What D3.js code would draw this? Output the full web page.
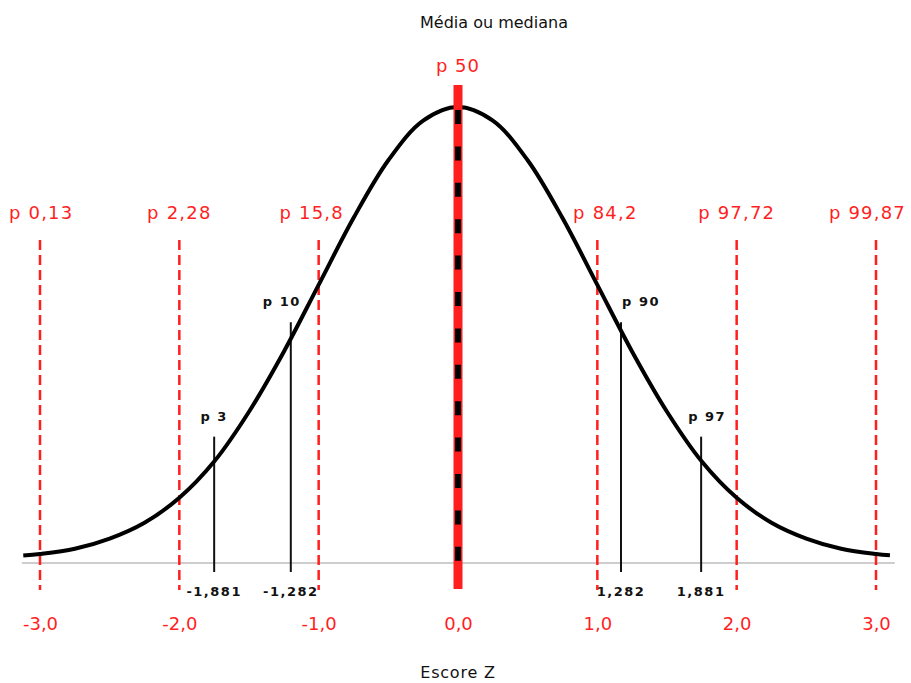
<!DOCTYPE html>
<html>
<head>
<meta charset="utf-8">
<script src="https://cdn.jsdelivr.net/npm/d3@7"></script>
<style>
  html, body { margin: 0; padding: 0; background: #fff; }
  svg { display: block; }
</style>
</head>
<body>
<svg id="chart" width="911" height="683"></svg>
<script>
// ---- data ----
const curveZ       = [-3.12, -3.0, -2.75, -2.5, -2.25, -2.0, -1.75, -1.5, -1.25, -1.0, -0.75, -0.5, -0.25, 0, 0.25, 0.5, 0.75, 1.0, 1.25, 1.5, 1.75, 2.0, 2.25, 2.5, 2.75, 3.0, 3.1];
const curveDensity = [0.0031, 0.0044, 0.009, 0.018, 0.032, 0.054, 0.086, 0.130, 0.183, 0.242, 0.301, 0.352, 0.387, 0.399, 0.387, 0.352, 0.301, 0.242, 0.183, 0.130, 0.086, 0.054, 0.032, 0.018, 0.009, 0.0044, 0.0033];

const tickValues = [-3, -2, -1, 0, 1, 2, 3];
const tickLabels = ["-3,0", "-2,0", "-1,0", "0,0", "1,0", "2,0", "3,0"];

const refZ      = [-3, -2, -1, 1, 2, 3];
const refLabels = ["p 0,13", "p 2,28", "p 15,8", "p 84,2", "p 97,72", "p 99,87"];

const markerZ       = [-1.75, -1.2, 1.17, 1.745];
const markerHeights = [0.108, 0.209, 0.209, 0.108];
const markerLabels  = ["p 3", "p 10", "p 90", "p 97"];
const markerValues  = ["-1,881", "-1,282", "1,282", "1,881"];

const medianZ = 0;
const medianLabel = "p 50";
const titleText = "Média ou mediana";
const axisTitle = "Escore Z";

// ---- layout (pixel nudges, not data) ----
const refNudge    = [0, 0, -7, 8, 0, 0];
const markerNudge = [0, -9, 20, 6];

// ---- drawing ----
const RED = "#ff1f1f";
const svg = d3.select("#chart");
const x = d3.scaleLinear().domain([-3, 3]).range([40, 876]);
const y = d3.scaleLinear().domain([0, 0.399]).range([559, 107]);

const fontMain = "'DejaVu Sans', Verdana, sans-serif";

// title
svg.append("text")
  .attr("x", 494).attr("y", 28)
  .attr("text-anchor", "middle")
  .attr("font-family", fontMain).attr("font-size", 16)
  .attr("fill", "#111")
  .text(titleText);

// baseline
svg.append("line")
  .attr("x1", x(-3.13)).attr("x2", x(3.12) + 2)
  .attr("y1", 563).attr("y2", 563)
  .attr("stroke", "#bdbdbd").attr("stroke-width", 1.5);

// red dashed reference lines
svg.append("g").selectAll("line").data(refZ).join("line")
  .attr("x1", d => x(d)).attr("x2", d => x(d))
  .attr("y1", 240).attr("y2", 590)
  .attr("stroke", RED).attr("stroke-width", 2.5)
  .attr("stroke-dasharray", "10,5");

const refText = svg.append("g").selectAll("text").data(refZ).join("text")
  .attr("x", (d, i) => x(d) + refNudge[i]).attr("y", 219)
  .attr("text-anchor", "middle")
  .attr("font-family", fontMain).attr("font-size", 18)
  .attr("letter-spacing", 1.2)
  .attr("fill", RED)
  .text((d, i) => refLabels[i]);
// keep labels inside the canvas
refText.each(function () {
  const b = this.getBBox();
  const cx = +this.getAttribute("x");
  if (b.x < 9) this.setAttribute("x", cx + (9 - b.x));
  else if (b.x + b.width > 906) this.setAttribute("x", cx - (b.x + b.width - 906));
});

// black marker lines
svg.append("g").selectAll("line").data(markerZ).join("line")
  .attr("x1", d => x(d)).attr("x2", d => x(d))
  .attr("y1", (d, i) => y(markerHeights[i])).attr("y2", 572)
  .attr("stroke", "#111").attr("stroke-width", 2);

svg.append("g").selectAll("text").data(markerZ).join("text")
  .attr("x", (d, i) => x(d) + markerNudge[i]).attr("y", (d, i) => y(markerHeights[i]) - 16)
  .attr("text-anchor", "middle")
  .attr("font-family", fontMain).attr("font-size", 13).attr("font-weight", "bold")
  .attr("letter-spacing", 1.5)
  .attr("fill", "#111")
  .text((d, i) => markerLabels[i]);

svg.append("g").selectAll("text").data(markerZ).join("text")
  .attr("x", d => x(d)).attr("y", 596)
  .attr("text-anchor", "middle")
  .attr("font-family", fontMain).attr("font-size", 13).attr("font-weight", "bold")
  .attr("letter-spacing", 1.5)
  .attr("fill", "#111")
  .text((d, i) => markerValues[i]);

// curve
const line = d3.line()
  .x((d, i) => x(curveZ[i]))
  .y(d => y(d))
  .curve(d3.curveCatmullRom);
svg.append("path")
  .datum(curveDensity)
  .attr("d", line)
  .attr("fill", "none")
  .attr("stroke", "#000").attr("stroke-width", 4);

// median line: red thick with black dashes
svg.append("line")
  .attr("x1", x(medianZ)).attr("x2", x(medianZ))
  .attr("y1", 85).attr("y2", 589)
  .attr("stroke", RED).attr("stroke-width", 9);
svg.append("line")
  .attr("x1", x(medianZ)).attr("x2", x(medianZ))
  .attr("y1", 110).attr("y2", 563)
  .attr("stroke", "#000").attr("stroke-width", 6)
  .attr("stroke-dasharray", "14,22.4");

svg.append("text")
  .attr("x", x(medianZ)).attr("y", 72)
  .attr("text-anchor", "middle")
  .attr("font-family", fontMain).attr("font-size", 18)
  .attr("letter-spacing", 1)
  .attr("fill", RED)
  .text(medianLabel);

// x axis tick labels
const axis = d3.axisBottom(x)
  .tickValues(tickValues)
  .tickFormat((d, i) => tickLabels[i])
  .tickSize(0);
const gAxis = svg.append("g").attr("transform", "translate(0,614)").call(axis);
gAxis.select(".domain").remove();
gAxis.selectAll("text")
  .attr("font-family", fontMain).attr("font-size", 18)
  .attr("fill", RED).attr("dy", "0.71em");

// axis title
svg.append("text")
  .attr("x", x(0)).attr("y", 678)
  .attr("text-anchor", "middle")
  .attr("font-family", fontMain).attr("font-size", 16)
  .attr("letter-spacing", 0.8)
  .attr("fill", "#111")
  .text(axisTitle);
</script>
</body>
</html>
